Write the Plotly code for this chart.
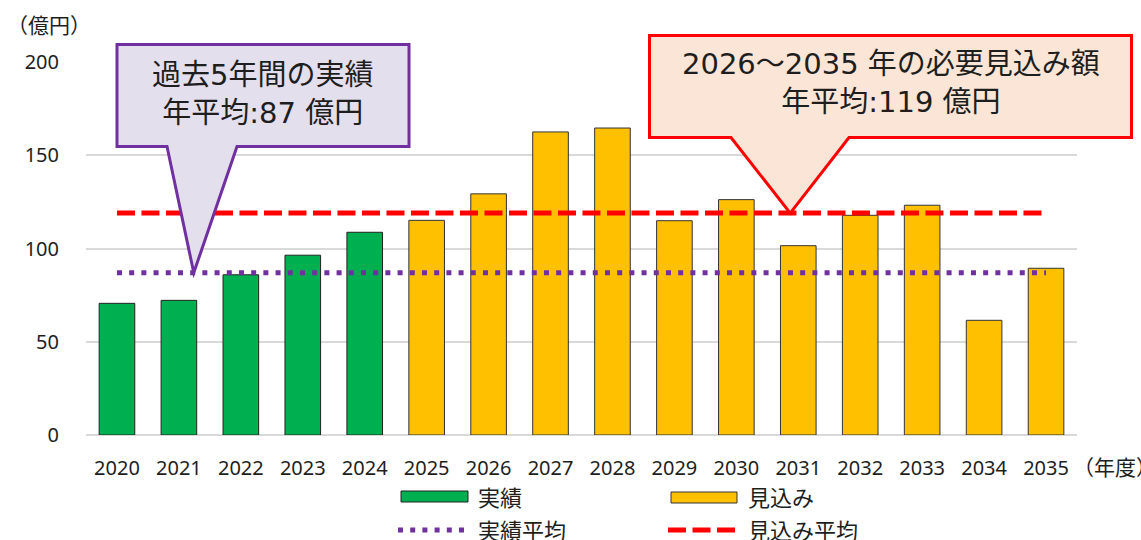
import plotly.graph_objects as go

# ---------------- data ----------------
actual_years = [2020, 2021, 2022, 2023, 2024]
actual_values = [70.6, 72.2, 85.9, 96.4, 108.7]
forecast_years = [2025, 2026, 2027, 2028, 2029, 2030, 2031, 2032, 2033, 2034, 2035]
forecast_values = [115.1, 129.3, 162.5, 164.6, 114.9, 126.2, 101.5, 117.8, 123.2, 61.5, 89.4]
avg_years = [2020, 2035]
actual_avg = [87, 87]
forecast_avg = [119, 119]
x_tickvals = list(range(2020, 2036))
x_ticktext = [str(y) for y in x_tickvals]
y_tickvals = [0, 50, 100, 150, 200]

actual_name = "実績"
forecast_name = "見込み"
actual_avg_name = "実績平均"
forecast_avg_name = "見込み平均"
callout1_text = "過去5年間の実績<br>年平均:87 億円"
callout2_text = "2026～2035 年の必要見込み額<br>年平均:119 億円"

# ---------------- layout geometry ----------------
W, H = 1141, 540
L, R, T, B = 86, 64, 62, 105
XR = [2019.5, 2035.5]
YR = [0, 200]

FONT = "Noto Sans, Noto Sans CJK JP, sans-serif"
CALLOUT_FONT = "DejaVu Sans, Noto Sans CJK JP, sans-serif"
TXT = "#1e1e1e"
GREEN = "#00b050"
YELLOW = "#ffc000"
PURPLE = "#7030a0"
RED = "#ff0000"


def px(x):
    return (x - L) / (W - L - R)


def py(y):
    return (H - B - y) / (H - T - B)


def dx(v):
    return (v - XR[0]) / (XR[1] - XR[0])


def dy(v):
    return (v - YR[0]) / (YR[1] - YR[0])


fig = go.Figure()

fig.add_trace(go.Bar(x=actual_years, y=actual_values, name=actual_name, width=0.575,
                     marker=dict(color=GREEN, line=dict(color="#222", width=1))))
fig.add_trace(go.Bar(x=forecast_years, y=forecast_values, name=forecast_name, width=0.575,
                     marker=dict(color=YELLOW, line=dict(color="#333", width=1))))
fig.add_trace(go.Scatter(x=avg_years, y=actual_avg, mode="lines", name=actual_avg_name,
                         line=dict(color=PURPLE, width=5, dash="5px,7.2px")))
fig.add_trace(go.Scatter(x=avg_years, y=forecast_avg, mode="lines", name=forecast_avg_name,
                         line=dict(color=RED, width=5, dash="18px,6.5px")))

shapes = []
annotations = []


def callout(l, t, r, b, bl, br, tipx, tipy, fill, color, text, cy, cx):
    tx, ty = dx(tipx), dy(tipy)
    path = (f"M {px(l)},{py(t)} L {px(r)},{py(t)} L {px(r)},{py(b)} L {px(br)},{py(b)} "
            f"L {tx},{ty} L {px(bl)},{py(b)} L {px(l)},{py(b)} Z")
    shapes.append(dict(type="path", path=path, xref="paper", yref="paper", layer="above",
                       fillcolor=fill, line=dict(color=color, width=3)))
    annotations.append(dict(text=text, x=px(cx), y=py(cy), xref="paper", yref="paper",
                            xanchor="center", yanchor="middle", showarrow=False, align="center",
                            font=dict(family=CALLOUT_FONT, size=29, color=TXT)))


callout(117, 44.5, 409, 146.5, 167, 237, 2021.24, actual_avg[0], "#e4dfec", PURPLE,
        callout1_text, 94, 262)
callout(649.5, 35.5, 1131.5, 137.5, 731, 849, 2030.87, forecast_avg[0], "#fbe5d6", RED,
        callout2_text, 82.5, 890.5)

# manual legend
shapes.append(dict(type="rect", xref="paper", yref="paper", x0=px(401), x1=px(468), y0=py(491), y1=py(502),
                   fillcolor=GREEN, line=dict(color="#222", width=1)))
shapes.append(dict(type="rect", xref="paper", yref="paper", x0=px(671), x1=px(737), y0=py(492), y1=py(503),
                   fillcolor=YELLOW, line=dict(color="#333", width=1)))
shapes.append(dict(type="line", xref="paper", yref="paper", x0=px(398), x1=px(466), y0=py(530), y1=py(530),
                   line=dict(color=PURPLE, width=5, dash="5px,7.2px")))
shapes.append(dict(type="line", xref="paper", yref="paper", x0=px(668), x1=px(735), y0=py(530), y1=py(530),
                   line=dict(color=RED, width=5, dash="18px,6.5px")))
for text, xx, yy in [(actual_name, 476, 497), (forecast_name, 746, 497),
                     (actual_avg_name, 476, 530), (forecast_avg_name, 746, 530)]:
    annotations.append(dict(text=text, x=px(xx), y=py(yy), xref="paper", yref="paper",
                            xanchor="left", yanchor="middle", showarrow=False,
                            font=dict(family=FONT, size=22, color=TXT)))

# axis unit labels
annotations.append(dict(text="（億円）", x=px(5), y=py(25), xref="paper", yref="paper",
                        xanchor="left", yanchor="middle", showarrow=False,
                        font=dict(family=FONT, size=21, color=TXT)))
annotations.append(dict(text="（年度）", x=px(1071), y=py(467), xref="paper", yref="paper",
                        xanchor="left", yanchor="middle", showarrow=False,
                        font=dict(family=FONT, size=21, color=TXT)))

fig.update_layout(
    width=W, height=H, autosize=False,
    margin=dict(l=L, r=R, t=T, b=B, pad=0),
    paper_bgcolor="white", plot_bgcolor="white",
    barmode="overlay", showlegend=False,
    shapes=shapes, annotations=annotations,
    font=dict(family=FONT, size=20, color=TXT),
    xaxis=dict(range=XR, tickvals=x_tickvals, ticktext=x_ticktext, showgrid=False,
               zeroline=False, showline=False, ticks="", ticklabelstandoff=19,
               tickfont=dict(family=FONT, size=20, color=TXT), fixedrange=True),
    yaxis=dict(range=YR, tickvals=y_tickvals, showgrid=True, gridcolor="#d9d9d9", gridwidth=1.5,
               zeroline=True, zerolinecolor="#d9d9d9", zerolinewidth=1.5, showline=False,
               ticks="", ticklabelstandoff=26,
               tickfont=dict(family=FONT, size=20, color=TXT), fixedrange=True),
)

fig.write_html("out.html", config={"displayModeBar": False},
               post_script="document.body.style.margin='0';document.body.style.overflow='hidden';")
